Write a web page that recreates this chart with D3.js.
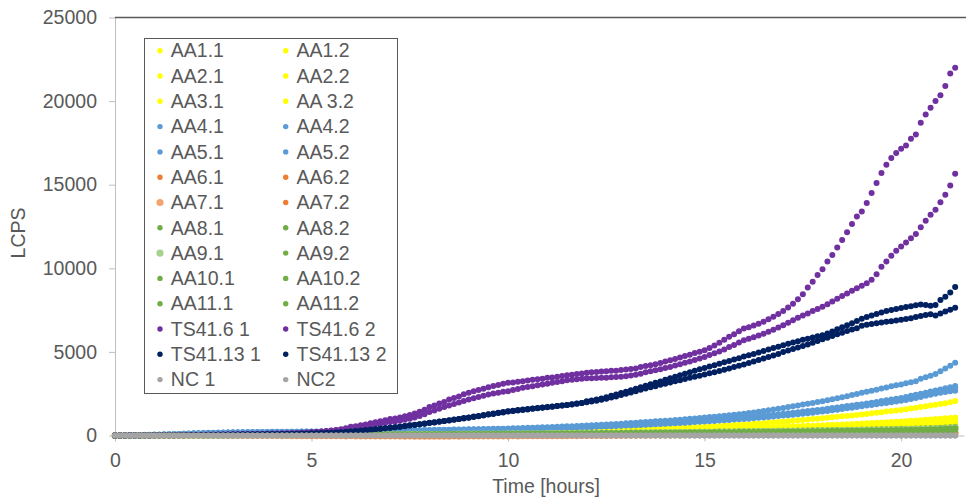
<!DOCTYPE html>
<html>
<head>
<meta charset="utf-8">
<script src="https://cdn.jsdelivr.net/npm/d3@7"></script>
<style>
  body { margin: 0; background: #fff; }
  svg text { font-family: "Liberation Sans", Arial, sans-serif; fill: #595959; }
</style>
</head>
<body>
<script>
// one reading every 7.5 minutes, starting at t = 0
var stepHours = 0.125;
var xTicks = [0, 5, 10, 15, 20];
var yTicks = [0, 5000, 10000, 15000, 20000, 25000];

var seriesNames = ["AA1.1", "AA1.2", "AA2.1", "AA2.2", "AA3.1", "AA 3.2",
  "AA4.1", "AA4.2", "AA5.1", "AA5.2", "AA6.1", "AA6.2", "AA7.1", "AA7.2",
  "AA8.1", "AA8.2", "AA9.1", "AA9.2", "AA10.1", "AA10.2", "AA11.1", "AA11.2",
  "TS41.6 1", "TS41.6 2", "TS41.13 1", "TS41.13 2", "NC 1", "NC2"];

// LCPS readings per sample (8 per hour)
var aa1_1 = [0,0,5,5,5,10,10,10, 10,15,15,15,20,20,20,20, 20,25,25,25,30,30,30,35, 35,35,40,40,40,45,45,45,
  50,50,55,55,55,60,60,65, 65,70,70,70,75,75,80,80, 90,90,95,95,100,100,105,105, 110,110,115,115,120,125,125,130,
  140,140,145,150,150,155,160,160, 165,170,175,175,180,185,190,195, 200,205,210,215,220,225,230,235, 240,245,250,255,265,270,275,280,
  290,295,300,310,315,325,335,340, 350,360,370,380,390,400,410,420, 430,440,455,465,480,490,505,515, 530,545,560,575,595,610,625,640,
  660,680,700,720,740,760,785,805, 830,855,880,905,930,955,980,1005, 1030,1060,1085,1115,1145,1170,1200,1230, 1260,1290,1325,1360,1395,1430,1460,1495,
  1530,1570,1610,1655,1700,1745,1790,1835, 1880,1930,1990,2060];
var aa1_2 = [0,5,0,5,10,5,10,10, 10,10,15,15,15,20,20,20, 20,20,25,25,25,30,30,30, 35,35,35,40,40,40,45,45,
  45,50,50,50,55,55,60,60, 60,65,65,70,70,70,75,75, 80,80,85,85,90,90,95,95, 100,100,105,105,110,110,115,115,
  120,125,125,130,130,135,140,140, 145,150,150,155,160,160,165,170, 175,175,180,185,190,190,195,200, 205,210,215,215,220,225,230,235,
  245,250,255,260,265,270,275,280, 285,290,295,300,310,315,320,325, 335,340,345,355,360,365,375,380, 390,395,405,410,420,425,435,440,
  450,460,470,480,490,500,510,520, 530,540,550,560,570,580,590,600, 615,625,640,650,665,675,690,700, 715,730,745,760,775,790,805,820,
  840,855,875,895,915,935,955,980, 1000,1025,1050,1080];
var aa2_1 = [5,0,5,0,5,10,5,10, 10,10,10,15,15,15,20,20, 20,20,20,25,25,25,30,30, 30,35,35,35,40,40,40,45,
  45,45,50,50,50,55,55,55, 60,60,60,65,65,70,70,70, 75,75,80,80,80,85,85,90, 90,95,95,100,100,105,105,110,
  110,115,115,120,120,125,125,130, 130,135,135,140,145,145,150,150, 155,160,160,165,170,170,175,180, 180,185,190,195,195,200,205,210,
  215,220,225,230,235,240,245,250, 255,260,265,270,275,280,285,290, 295,300,310,315,320,325,330,340, 345,350,360,365,370,380,385,390,
  400,405,415,420,430,440,445,455, 460,470,480,485,495,505,510,520, 530,540,550,560,570,580,590,600, 610,620,630,640,650,665,675,685,
  700,710,725,740,755,770,785,800, 820,840,865,895];
var aa2_2 = [0,5,5,0,5,5,10,5, 10,10,10,15,15,15,15,20, 20,20,20,20,25,25,25,25, 30,30,30,35,35,35,35,40,
  40,40,40,45,45,45,50,50, 50,55,55,55,60,60,60,65, 65,65,70,70,70,75,75,75, 80,80,85,85,85,90,90,95,
  95,100,100,100,105,105,110,110, 115,115,120,120,125,125,130,130, 135,140,140,145,145,150,155,155, 160,160,165,170,170,175,180,180,
  185,190,195,195,200,205,210,215, 220,225,225,230,235,240,245,250, 255,260,265,270,275,280,285,290, 295,300,305,315,320,325,330,335,
  345,350,355,365,370,375,385,390, 400,405,410,420,425,435,440,450, 460,465,475,485,495,500,510,520, 530,540,550,560,570,580,590,600,
  610,620,635,645,660,670,685,700, 715,735,755,780];
var aa3_1 = [5,0,5,5,0,5,10,10, 5,10,10,10,15,15,15,15, 20,20,20,20,20,25,25,25, 25,30,30,30,30,35,35,35,
  35,40,40,40,40,45,45,45, 45,50,50,50,55,55,55,55, 60,60,60,65,65,65,70,70, 70,75,75,75,80,80,80,85,
  85,85,90,90,95,95,95,100, 100,105,105,110,110,110,115,115, 120,120,125,125,130,130,135,135, 140,140,145,145,150,155,155,160,
  160,165,170,170,175,180,180,185, 190,190,195,200,205,205,210,215, 220,225,225,230,235,240,245,250, 255,260,265,270,275,280,285,290,
  295,300,305,310,320,325,330,335, 340,350,355,360,370,375,380,390, 395,405,410,420,425,435,440,450, 460,465,475,485,490,500,510,520,
  530,540,550,560,575,585,600,610, 625,640,660,680];
var aa3_2 = [0,5,0,5,5,5,5,10, 10,10,10,10,10,15,15,15, 15,20,20,20,20,20,25,25, 25,25,25,30,30,30,30,30,
  35,35,35,35,40,40,40,40, 45,45,45,45,50,50,50,50, 55,55,55,60,60,60,60,65, 65,65,70,70,70,70,75,75,
  75,80,80,80,85,85,85,90, 90,90,95,95,95,100,100,105, 105,110,110,110,115,115,120,120, 125,125,130,130,135,135,140,140,
  145,145,150,150,155,160,160,165, 165,170,175,175,180,185,185,190, 195,195,200,205,210,210,215,220, 225,230,230,235,240,245,250,255,
  260,265,270,275,280,285,290,295, 300,305,310,320,325,330,335,340, 350,355,360,370,375,380,390,395, 405,410,420,425,435,445,450,460,
  470,480,490,500,510,520,530,540, 555,565,585,600];
var aa4_1 = [0,5,10,15,20,25,30,35, 40,50,60,70,80,95,105,120, 130,140,150,160,165,170,180,185, 190,195,200,200,205,210,210,215,
  220,220,225,225,230,230,235,235, 240,240,245,245,250,250,255,255, 260,265,265,270,275,280,280,285, 290,295,300,305,310,315,320,325,
  330,335,340,345,350,355,360,365, 370,375,380,385,390,400,405,410, 420,430,440,450,460,470,480,490, 500,510,520,535,550,560,575,590,
  600,615,630,645,660,680,695,710, 730,750,770,785,805,825,845,860, 880,900,925,945,970,995,1020,1045, 1070,1100,1125,1155,1185,1215,1245,1270,
  1300,1340,1380,1420,1460,1510,1555,1600, 1650,1700,1750,1800,1850,1900,1950,2000, 2050,2110,2170,2230,2290,2350,2420,2480, 2550,2610,2680,2740,2810,2870,2940,3000,
  3050,3120,3180,3250,3400,3480,3570,3680, 3850,4000,4170,4350];
var aa4_2 = [0,5,10,15,20,25,30,35, 40,45,55,65,75,85,100,110, 120,130,140,150,155,160,170,175, 180,185,190,190,195,200,200,205,
  210,210,215,215,220,220,225,225, 230,230,235,235,240,240,245,245, 250,255,255,260,265,265,270,275, 280,285,290,290,295,300,305,310,
  315,320,325,330,335,340,345,350, 355,360,365,370,375,380,385,390, 390,400,410,415,425,435,440,450, 460,470,480,490,500,510,520,530,
  540,550,565,575,590,600,615,625, 640,655,670,685,700,715,730,745, 760,775,790,810,830,845,865,880, 900,920,940,960,985,1010,1035,1055,
  1080,1105,1130,1160,1190,1215,1245,1270, 1300,1330,1360,1395,1430,1460,1495,1530, 1560,1600,1640,1680,1720,1760,1800,1835, 1870,1915,1960,2010,2060,2110,2155,2200,
  2250,2310,2370,2430,2500,2560,2630,2690, 2750,2820,2890,2960];
var aa5_1 = [0,10,10,15,25,25,35,40, 45,50,60,70,80,90,100,110, 120,125,135,145,150,160,165,170, 175,180,185,190,190,195,200,200,
  205,205,210,210,215,215,220,220, 225,225,230,230,235,235,240,240, 245,250,250,255,260,260,265,270, 275,280,280,285,290,295,300,300,
  305,310,315,320,325,330,335,340, 345,350,355,360,365,370,370,375, 380,385,395,400,410,415,420,430, 440,445,455,465,475,485,495,505,
  520,530,540,555,565,580,590,605, 615,630,645,655,670,685,700,715, 730,745,760,780,795,815,830,850, 870,890,910,930,950,970,990,1010,
  1030,1055,1080,1110,1135,1160,1190,1215, 1240,1270,1300,1330,1360,1400,1430,1465, 1500,1540,1580,1620,1660,1700,1745,1790, 1830,1870,1910,1950,1990,2030,2070,2120,
  2180,2240,2300,2370,2440,2510,2580,2640, 2700,2760,2810,2860];
var aa5_2 = [5,5,10,20,20,30,30,35, 40,45,55,60,70,80,90,100, 110,120,130,135,145,150,155,160, 165,170,175,180,180,185,190,190,
  195,195,200,200,205,205,210,210, 215,215,220,220,225,225,230,230, 235,240,240,245,250,250,255,260, 265,270,270,275,280,285,285,290,
  295,300,305,310,315,315,320,325, 330,335,340,345,350,355,360,365, 370,375,385,390,395,405,410,420, 425,435,445,450,460,470,480,490,
  500,510,520,535,545,555,570,580, 595,605,620,635,645,660,675,690, 700,715,730,750,765,780,800,815, 830,850,870,890,910,930,950,965,
  980,1005,1030,1055,1080,1110,1135,1160, 1190,1215,1245,1275,1305,1335,1365,1400, 1430,1470,1510,1545,1585,1625,1665,1705, 1750,1790,1830,1870,1910,1950,1990,2030,
  2080,2130,2190,2250,2310,2370,2430,2490, 2550,2600,2640,2680];
var aa6_1 = [0,-5,0,5,0,-5,0,5, 0,5,0,-5,0,5,10,5, 5,0,5,10,5,0,5,10, 10,5,10,5,0,5,10,5,
  5,0,-5,0,5,0,-5,-5, -5,-10,-5,-10,-10,-10,-15,-10, -15,-15,-15,-20,-15,-20,-20,-20, -25,-20,-25,-25,-30,-25,-30,-30,
  -30,-30,-25,-30,-25,-25,-20,-25, -20,-20,-20,-15,-20,-15,-15,-10, -15,-10,-10,-5,-10,-5,-5,0, -5,5,0,10,5,15,10,20,
  15,20,25,20,30,25,30,35, 30,35,40,35,40,45,40,45, 50,45,50,55,50,55,60,55, 60,65,60,65,70,65,70,75,
  70,75,80,75,80,85,80,85, 90,85,90,95,90,95,100,95, 100,105,100,105,110,105,110,115, 110,115,120,115,120,125,120,125,
  130,125,130,135,130,135,140,135, 140,145,140,145];
var aa6_2 = [5,0,0,-5,0,0,5,0, 5,0,5,0,-5,0,5,5, 0,5,5,0,5,10,5,5, 5,0,5,0,-5,0,-5,-5,
  -5,-5,-10,-5,-10,-10,-15,-10, -15,-15,-20,-15,-20,-20,-25,-20, -25,-25,-30,-25,-30,-30,-35,-30, -35,-35,-40,-35,-40,-40,-35,-40,
  -35,-35,-35,-30,-35,-30,-30,-25, -30,-25,-25,-20,-25,-20,-20,-15, -20,-15,-15,-10,-15,-10,-10,-5, -10,-5,-5,0,-5,5,0,10,
  5,15,10,20,15,25,20,30, 25,30,35,30,35,40,35,40, 45,40,45,50,45,50,55,50, 55,60,55,60,65,60,65,70,
  65,70,75,70,75,80,75,80, 85,80,85,90,85,90,95,90, 95,100,95,100,105,100,105,110, 105,110,115,110,115,120,115,120,
  125,120,125,130,125,130,135,130, 135,140,135,140];
var aa7_1 = [0,0,5,0,-5,0,0,5, 0,5,5,0,5,0,5,10, 5,10,5,5,10,5,0,5, 0,5,0,-5,0,-5,-5,-5,
  -5,-5,-10,-5,-10,-10,-10,-15, -10,-15,-15,-20,-15,-20,-20,-25, -20,-25,-25,-30,-25,-30,-30,-35, -30,-35,-35,-40,-35,-40,-40,-45,
  -40,-40,-45,-40,-40,-35,-40,-35, -35,-30,-35,-30,-30,-25,-30,-25, -25,-20,-25,-20,-20,-15,-20,-15, -15,-10,-15,-10,-10,-5,-10,-5,
  -5,0,-5,5,0,10,5,15, 10,20,15,25,20,30,25,35, 30,35,40,35,40,45,40,45, 50,45,50,55,50,55,60,55,
  60,65,60,65,70,65,70,75, 70,75,80,75,80,85,80,85, 90,85,90,95,90,95,100,95, 100,105,100,105,110,105,110,115,
  110,115,120,115,120,125,120,125, 130,125,130,135];
var aa7_2 = [5,0,-5,0,5,0,-5,0, 0,5,0,5,5,0,5,0, 5,0,5,5,0,5,0,-5, 0,-5,0,-5,-5,-5,-5,-5,
  -5,-10,-5,-10,-10,-10,-10,-15, -10,-15,-15,-15,-15,-20,-15,-20, -20,-20,-20,-25,-20,-25,-25,-25, -25,-30,-25,-30,-30,-30,-30,-30,
  -30,-30,-25,-30,-25,-25,-25,-25, -20,-25,-20,-20,-20,-20,-15,-20, -15,-15,-15,-15,-10,-15,-10,-10, -10,-10,-5,-10,-5,-5,-5,-5,
  0,-5,0,5,0,5,10,5, 10,15,10,15,20,15,20,25, 20,25,30,25,30,35,30,35, 40,35,40,45,40,45,50,45,
  50,55,50,55,60,55,60,65, 60,65,70,65,70,75,70,75, 80,75,80,85,80,85,90,85, 90,95,90,95,100,95,100,105,
  100,105,110,105,110,115,110,115, 120,115,120,125];
var aa8_1 = [0,5,0,5,5,5,10,5, 10,10,10,15,10,15,15,15, 15,20,20,20,20,25,25,25, 25,25,30,30,30,30,35,35,
  35,35,40,40,40,40,45,45, 45,45,50,50,50,55,55,55, 55,60,60,60,60,65,65,65, 70,70,70,75,75,75,80,80,
  80,85,85,85,90,90,90,95, 95,95,100,100,105,105,105,110, 110,115,115,115,120,120,125,125, 130,130,135,135,140,140,145,145,
  150,150,155,155,160,160,165,170, 170,175,175,180,185,185,190,195, 195,200,205,205,210,215,215,220, 225,230,230,235,240,240,245,250,
  255,255,260,265,270,270,275,280, 285,290,290,295,300,305,310,310, 315,320,325,330,335,340,345,350, 355,360,365,370,375,380,385,390,
  400,405,410,420,425,435,440,450, 460,475,495,520];
var aa8_2 = [0,0,5,5,5,5,5,10, 10,10,10,10,15,15,15,15, 15,20,20,20,20,20,25,25, 25,25,25,30,30,30,30,35,
  35,35,35,35,40,40,40,40, 45,45,45,45,50,50,50,50, 55,55,55,55,60,60,60,65, 65,65,65,70,70,70,75,75,
  75,80,80,80,85,85,85,90, 90,90,95,95,95,100,100,100, 105,105,110,110,110,115,115,120, 120,125,125,125,130,130,135,135,
  140,140,145,145,150,150,155,155, 160,160,165,170,170,175,175,180, 185,185,190,190,195,200,200,205, 210,210,215,220,220,225,230,230,
  235,240,240,245,250,250,255,260, 265,265,270,275,280,280,285,290, 295,300,305,310,310,315,320,325, 330,335,340,345,350,355,360,365,
  375,380,385,395,400,410,415,425, 435,450,470,490];
var aa9_1 = [5,0,0,5,5,5,10,5, 10,10,10,10,10,15,15,15, 15,15,20,20,20,20,20,25, 25,25,25,25,30,30,30,30,
  30,35,35,35,35,40,40,40, 40,45,45,45,45,50,50,50, 50,55,55,55,55,60,60,60, 60,65,65,65,70,70,70,70,
  75,75,75,80,80,80,85,85, 85,85,90,90,90,95,95,95, 100,100,100,105,105,110,110,110, 115,115,120,120,120,125,125,130,
  130,135,135,140,140,145,145,150, 150,155,155,160,160,165,165,170, 175,175,180,180,185,185,190,195, 195,200,200,205,210,210,215,220,
  220,225,230,230,235,235,240,245, 250,250,255,260,260,265,270,275, 280,280,285,290,295,300,300,305, 310,315,320,325,330,335,340,345,
  350,360,365,370,380,385,395,400, 410,425,440,460];
var aa9_2 = [0,5,5,0,5,5,5,10, 5,10,10,10,10,10,15,15, 15,15,15,20,20,20,20,20, 25,25,25,25,25,30,30,30,
  30,30,35,35,35,35,35,40, 40,40,40,45,45,45,45,50, 50,50,50,50,55,55,55,55, 60,60,60,65,65,65,65,70,
  70,70,70,75,75,75,80,80, 80,80,85,85,85,90,90,90, 95,95,95,100,100,100,105,105, 105,110,110,115,115,115,120,120,
  120,125,125,130,130,135,135,140, 140,145,145,150,150,155,155,160, 160,165,165,170,170,175,175,180, 185,185,190,190,195,195,200,205,
  205,210,215,215,220,220,225,230, 235,235,240,245,245,250,255,255, 260,265,270,270,275,280,285,290, 290,295,300,305,310,315,320,325,
  330,335,345,350,355,365,370,380, 385,400,415,430];
var aa10_1 = [5,5,0,5,0,5,5,5, 10,10,10,10,10,10,15,15, 15,15,15,15,20,20,20,20, 20,25,25,25,25,25,30,30,
  30,30,30,30,35,35,35,35, 35,40,40,40,40,45,45,45, 45,45,50,50,50,50,55,55, 55,55,60,60,60,60,65,65,
  65,65,70,70,70,70,75,75, 75,80,80,80,80,85,85,85, 90,90,90,90,95,95,95,100, 100,100,105,105,105,110,110,110,
  115,115,120,120,120,125,125,130, 130,135,135,135,140,140,145,145, 150,150,155,155,160,160,165,165, 170,170,175,175,180,180,185,190,
  190,195,195,200,200,205,210,210, 215,220,220,225,230,230,235,240, 240,245,250,250,255,260,265,265, 270,275,280,285,290,290,295,300,
  305,310,320,325,330,335,345,350, 360,370,385,400];
var aa10_2 = [0,5,5,5,5,0,5,5, 10,5,10,10,10,10,10,15, 15,15,15,15,15,20,20,20, 20,20,20,25,25,25,25,25,
  30,30,30,30,30,35,35,35, 35,35,40,40,40,40,40,45, 45,45,45,45,50,50,50,50, 55,55,55,55,55,60,60,60,
  60,65,65,65,65,70,70,70, 70,75,75,75,75,80,80,80, 85,85,85,85,90,90,90,95, 95,95,100,100,100,100,105,105,
  105,110,110,115,115,115,120,120, 125,125,125,130,130,135,135,135, 140,140,145,145,150,150,155,155, 160,160,165,165,170,170,175,175,
  180,180,185,185,190,195,195,200, 200,205,210,210,215,215,220,225, 225,230,235,235,240,245,245,250, 255,260,260,265,270,275,280,285,
  290,295,300,305,310,320,325,330, 340,350,365,380];
var aa11_1 = [5,0,5,0,5,5,5,5, 5,10,10,10,10,10,10,10, 15,15,15,15,15,15,20,20, 20,20,20,20,20,25,25,25,
  25,25,25,30,30,30,30,30, 30,35,35,35,35,35,40,40, 40,40,40,40,45,45,45,45, 45,50,50,50,50,50,55,55,
  55,55,60,60,60,60,60,65, 65,65,65,70,70,70,70,75, 75,75,75,80,80,80,85,85, 85,85,90,90,90,95,95,95,
  100,100,100,105,105,105,110,110, 110,115,115,120,120,120,125,125, 130,130,130,135,135,140,140,145, 145,145,150,150,155,155,160,160,
  165,165,170,170,175,175,180,180, 185,185,190,195,195,200,200,205, 210,210,215,215,220,225,225,230, 235,235,240,245,250,250,255,260,
  265,270,275,280,285,290,295,300, 310,320,335,350];
var aa11_2 = [0,5,0,5,5,0,5,5, 5,5,10,10,10,10,10,10, 10,15,15,15,15,15,15,20, 20,20,20,20,20,20,25,25,
  25,25,25,25,25,30,30,30, 30,30,30,35,35,35,35,35, 35,40,40,40,40,40,45,45, 45,45,45,45,50,50,50,50,
  50,55,55,55,55,55,60,60, 60,60,60,65,65,65,65,65, 70,70,70,70,75,75,75,75, 80,80,80,80,85,85,85,90,
  90,90,90,95,95,95,100,100, 100,105,105,105,110,110,110,115, 115,120,120,120,125,125,130,130, 130,135,135,140,140,140,145,145,
  150,150,155,155,155,160,160,165, 165,170,170,175,175,180,180,185, 190,190,195,195,200,200,205,210, 210,215,220,220,225,230,230,235,
  240,245,250,255,260,265,270,275, 285,295,305,320];
var ts41_6_1 = [0,5,0,10,5,0,10,5, 10,15,10,20,15,25,20,30, 40,35,45,40,50,55,60,70, 80,75,85,90,95,100,95,110,
  120,115,125,130,140,150,160,175, 200,215,240,265,300,335,380,440, 520,560,610,660,730,790,850,910, 980,1020,1080,1150,1230,1310,1420,1540,
  1700,1800,1920,2010,2150,2240,2340,2460, 2550,2640,2720,2790,2880,2960,3020,3090, 3150,3170,3220,3250,3290,3330,3360,3400, 3450,3470,3520,3560,3600,3630,3680,3710,
  3750,3790,3800,3830,3850,3880,3870,3910, 3950,3980,4010,4090,4150,4200,4260,4330, 4420,4500,4580,4660,4750,4830,4930,5010, 5100,5230,5380,5540,5720,5900,6060,6230,
  6400,6480,6580,6680,6800,6950,7100,7270, 7450,7650,7880,8150,8450,8850,9200,9600, 9950,10400,10800,11250,11700,12150,12650,13100, 13400,13900,14500,15100,15700,16200,16600,16900,
  17150,17350,17750,18000,18700,19200,19600,20000, 20350,20900,21650,22000];
var ts41_6_2 = [0,0,5,10,0,5,10,5, 10,10,15,20,15,20,25,30, 30,35,40,40,45,50,55,60, 65,70,70,80,85,90,95,100,
  110,110,120,125,135,145,155,170, 190,205,225,250,280,310,350,400, 450,490,530,570,620,670,710,760, 800,840,880,940,1000,1080,1160,1270,
  1400,1500,1600,1700,1800,1890,1980,2070, 2150,2230,2300,2380,2450,2510,2560,2610, 2650,2720,2780,2850,2900,2950,3000,3050, 3100,3150,3200,3250,3300,3330,3370,3400,
  3420,3430,3440,3460,3450,3480,3500,3520, 3550,3590,3640,3700,3780,3840,3900,3960, 4030,4100,4180,4260,4350,4430,4520,4610, 4700,4810,4920,5030,5150,5290,5420,5560,
  5700,5790,5880,5980,6080,6200,6330,6460, 6600,6750,6900,7040,7180,7300,7440,7560, 7700,7850,8020,8180,8350,8500,8650,8800, 8950,9100,9320,9650,10100,10400,10750,11050,
  11300,11550,11800,12050,12450,12850,13200,13500, 13950,14400,14950,15650];
var ts41_13_1 = [0,5,0,5,10,5,0,10, 10,10,15,15,20,20,25,25, 30,30,35,40,40,45,45,50, 50,55,55,60,60,65,70,70,
  75,80,80,85,90,95,100,110, 120,130,140,150,160,175,190,210, 240,260,290,320,350,380,410,440, 470,500,530,570,610,640,680,720,
  760,790,830,870,910,950,990,1040, 1080,1130,1170,1220,1270,1310,1360,1400, 1450,1480,1520,1550,1580,1610,1640,1670, 1700,1730,1770,1800,1830,1870,1910,1950,
  2050,2100,2160,2220,2290,2370,2450,2540, 2620,2700,2790,2880,2980,3060,3150,3230, 3330,3420,3510,3600,3690,3780,3870,3960, 4040,4120,4200,4290,4380,4460,4550,4620,
  4720,4800,4880,4970,5060,5150,5230,5310, 5400,5480,5560,5640,5720,5790,5860,5930, 6000,6100,6220,6350,6470,6600,6720,6850, 6980,7080,7180,7270,7360,7440,7510,7570,
  7620,7680,7730,7790,7830,7800,7760,7800, 8100,8300,8550,8880];
var ts41_13_2 = [5,0,0,10,5,5,10,0, 15,10,10,20,20,25,20,30, 25,35,30,35,45,40,50,45, 55,50,60,55,65,60,65,75,
  70,75,85,80,85,95,105,105, 115,125,135,145,155,170,185,205, 230,250,280,310,340,370,400,430, 460,490,520,560,600,630,670,710,
  750,780,820,860,900,940,980,1020, 1060,1110,1150,1200,1250,1290,1340,1380, 1430,1460,1500,1530,1560,1600,1630,1660, 1690,1720,1760,1790,1820,1860,1900,1940,
  1990,2030,2080,2140,2200,2270,2340,2420, 2500,2570,2650,2730,2810,2880,2950,3030, 3100,3170,3240,3310,3380,3450,3520,3580, 3650,3720,3790,3860,3930,4010,4090,4170,
  4250,4340,4430,4520,4610,4700,4790,4870, 5000,5080,5170,5260,5350,5450,5550,5650, 5750,5850,5950,6050,6150,6250,6340,6420, 6560,6620,6670,6720,6760,6800,6840,6880,
  6920,6970,7020,7080,7140,7200,7250,7180, 7300,7420,7520,7640];
var nc_1 = [0,5,0,-5,0,5,0,0, 5,0,-5,0,5,0,0,5, 0,-5,0,5,0,0,-5,0, 5,0,0,-5,0,5,0,-5,
  0,5,0,0,-5,0,5,0, 0,-5,0,5,0,0,5,0, -5,0,5,0,0,-5,0,5, 0,0,5,0,-5,0,5,0,
  0,5,0,-5,0,5,0,0, 5,0,-5,0,5,0,0,5, 0,-5,0,5,0,0,-5,0, 5,0,0,-5,0,5,0,-5,
  0,5,0,0,-5,0,5,0, 0,-5,0,5,0,0,5,0, -5,0,5,0,0,-5,0,5, 0,0,5,0,-5,0,5,0,
  0,5,0,-5,0,5,0,0, 5,0,-5,0,5,0,0,5, 0,-5,0,5,0,0,-5,0, 5,0,0,-5,0,5,0,-5,
  0,5,0,0,-5,0,5,0, 0,-5,0,5];
var nc2 = [5,0,0,5,-5,0,5,0, 0,5,0,0,-5,5,0,0, 5,0,5,0,0,-5,0,5, 0,0,-5,0,5,0,0,5,
  5,0,0,-5,0,0,5,0, 0,5,-5,0,0,5,0,-5, 0,0,5,0,5,0,-5,0, 5,0,0,-5,0,5,0,0,
  -5,0,5,0,0,5,0,-5, 0,5,0,0,-5,0,5,0, 5,0,0,5,0,-5,0,0, 0,-5,5,0,0,0,5,0,
  5,0,0,-5,5,0,0,5, 0,0,5,0,-5,0,0,5, 0,5,0,0,5,0,-5,0, 5,0,-5,0,0,5,0,0,
  0,0,5,0,5,0,0,-5, 0,5,0,0,-5,0,5,0, 5,0,0,5,0,-5,0,0, 0,-5,0,5,0,0,5,0,
  5,0,0,0,-5,5,0,0, 0,5,0,-5];

var seriesValues = [aa1_1, aa1_2, aa2_1, aa2_2, aa3_1, aa3_2, aa4_1, aa4_2, aa5_1, aa5_2,
  aa6_1, aa6_2, aa7_1, aa7_2, aa8_1, aa8_2, aa9_1, aa9_2, aa10_1, aa10_2, aa11_1, aa11_2,
  ts41_6_1, ts41_6_2, ts41_13_1, ts41_13_2, nc_1, nc2];

// marker colours, in the same order as the names
var seriesColors = ["#FFFF00", "#FFFF00", "#FFFF00", "#FFFF00", "#FFFF00", "#FFFF00",
  "#5B9BD5", "#5B9BD5", "#5B9BD5", "#5B9BD5", "#ED7D31", "#ED7D31", "#F4A46E", "#ED7D31",
  "#70AD47", "#70AD47", "#A9D18E", "#70AD47", "#70AD47", "#70AD47", "#70AD47", "#70AD47",
  "#7030A0", "#7030A0", "#002060", "#002060", "#A5A5A5", "#A5A5A5"];
var bigMarkers = ["AA7.1", "AA9.1"];

var width = 966, height = 504;

var svg = d3.select("body").append("svg")
  .attr("width", width)
  .attr("height", height);

var x = d3.scaleLinear().domain([0, 21.6]).range([115, 964]);
var y = d3.scaleLinear().domain([0, 25000]).range([435.5, 17.5]);

// axes
svg.append("g")
  .attr("transform", "translate(115,0)")
  .call(d3.axisLeft(y).tickValues(yTicks).tickSize(6).tickSizeOuter(0).tickPadding(12).tickFormat(d3.format("d")));

svg.append("g")
  .attr("transform", "translate(0,435.5)")
  .call(d3.axisBottom(x).tickValues(xTicks).tickSize(6).tickSizeOuter(0).tickPadding(12));

svg.selectAll(".domain, .tick line").attr("stroke", "#bfbfbf");
svg.selectAll(".tick text").attr("font-size", 19.5).attr("font-family", null);

// top border of the plot area
svg.append("line")
  .attr("x1", 115).attr("x2", width)
  .attr("y1", 17.5).attr("y2", 17.5)
  .attr("stroke", "#595959")
  .attr("stroke-width", 1.3);

svg.append("text")
  .attr("transform", "translate(25,233) rotate(-90)")
  .attr("text-anchor", "middle")
  .attr("font-size", 19.5)
  .text("LCPS");

svg.append("text")
  .attr("x", 546).attr("y", 493)
  .attr("text-anchor", "middle")
  .attr("font-size", 19.5)
  .text("Time [hours]");

// markers, one group per series, drawn in legend order
var plot = svg.append("g");
seriesValues.forEach(function(vals, s) {
  var r = bigMarkers.indexOf(seriesNames[s]) >= 0 ? 3.5 : 3;
  plot.append("g")
    .selectAll("circle")
    .data(vals)
    .enter()
    .append("circle")
      .attr("cx", (d, i) => x(i * stepHours))
      .attr("cy", (d) => y(d))
      .attr("r", r)
      .attr("fill", seriesColors[s]);
});

// legend
var legend = svg.append("g");
legend.append("rect")
  .attr("x", 144.5).attr("y", 38.5)
  .attr("width", 253).attr("height", 355)
  .attr("fill", "#fff")
  .attr("stroke", "#595959")
  .attr("stroke-width", 1);

var item = legend.selectAll(".item")
  .data(seriesNames)
  .enter()
  .append("g")
    .attr("class", "item")
    .attr("transform", (d, i) => "translate(" + (i % 2 ? 285.7 : 160) + "," + (50.7 + Math.floor(i / 2) * 25.3) + ")");

item.append("circle")
  .attr("r", (d) => bigMarkers.indexOf(d) >= 0 ? 3.6 : 2.7)
  .attr("fill", (d, i) => seriesColors[i]);

item.append("text")
  .attr("x", 10.8)
  .attr("y", 6.7)
  .attr("font-size", 19.5)
  .text((d) => d);

seriesValues.forEach(function(v, s) {
  if (v.length !== 172) console.log(seriesNames[s] + " has " + v.length);
});
</script>
</body>
</html>
